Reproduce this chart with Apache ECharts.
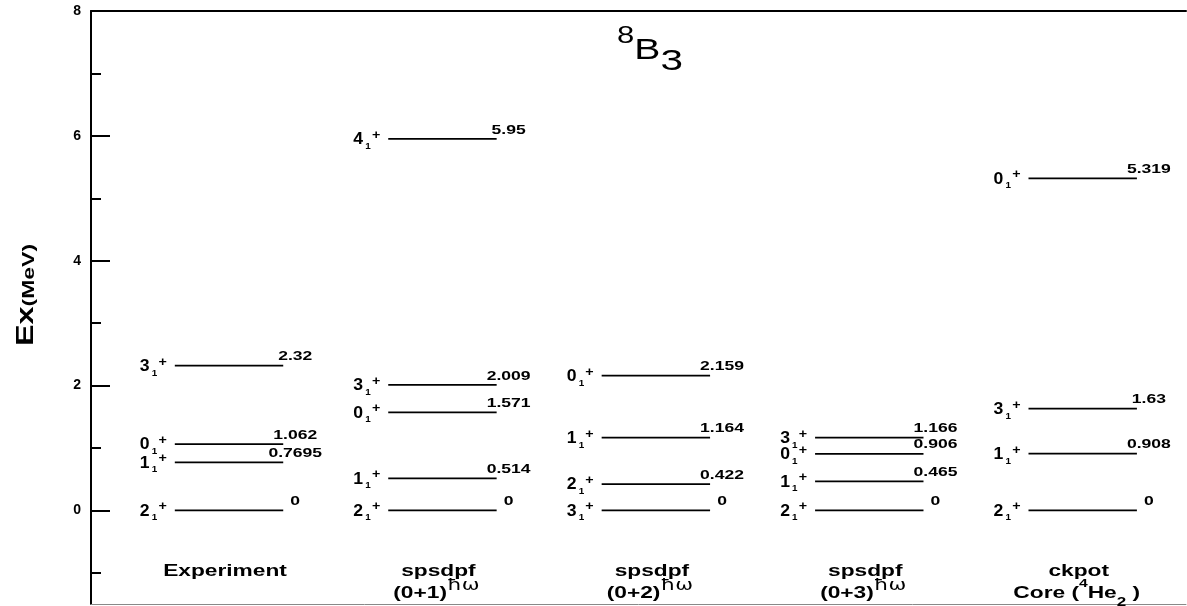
<!DOCTYPE html>
<html>
<head>
<meta charset="utf-8">
<script src="https://cdn.jsdelivr.net/npm/echarts@6/dist/echarts.min.js"></script>
<style>
html,body{margin:0;padding:0;background:#fff}
#main{width:1187px;height:606px}
</style>
</head>
<body>
<div id="main"></div>
<script>
// level scheme of 8B, one array per column
var colNames = ['Experiment', 'spsdpf', 'spsdpf', 'spsdpf', 'ckpot'];
var colSub = ['', '{b|(0+1)}{h|ħω}', '{b|(0+2)}{h|ħω}', '{b|(0+3)}{h|ħω}', '{b|Core (}{s|4}{b|He}{u|2}{b| )}'];

var expE = [0, 0.7695, 1.062, 2.32];
var expJ = ['2', '1', '0', '3'];
var sp1E = [0, 0.514, 1.571, 2.009, 5.95];
var sp1J = ['2', '1', '0', '3', '4'];
var sp2E = [0, 0.422, 1.164, 2.159];
var sp2J = ['3', '2', '1', '0'];
var sp3E = [0, 0.465, 0.906, 1.166];
var sp3J = ['2', '1', '0', '3'];
var ckE = [0, 0.908, 1.63, 5.319];
var ckJ = ['2', '1', '3', '0'];

var majorTicks = [0, 2, 4, 6, 8];
var minorTicks = [-1, 1, 3, 5, 7];

var allE = [expE, sp1E, sp2E, sp3E, ckE];
var allJ = [expJ, sp1J, sp2J, sp3J, ckJ];

var FONT = 'Liberation Sans';
var HALF = 0.254;   // half width of a level line (in column units)
var NAME_Y = -1;

var levelData = [], levelJ = [], levelTxt = [];
for (var c = 0; c < allE.length; c++) {
    for (var k = 0; k < allE[c].length; k++) {
        levelData.push([c + 1, allE[c][k]]);
        levelJ.push(allJ[c][k]);
        levelTxt.push(String(allE[c][k]));
    }
}
var nameData = colNames.map(function (n, i) { return [i + 1, NAME_Y]; });

function renderLevel(params, api) {
    var col = api.value(0), e = api.value(1);
    var a = api.coord([col - HALF, e]);
    var b = api.coord([col + HALF, e]);
    var i = params.dataIndex;
    return {
        type: 'group',
        children: [
            {type: 'line', shape: {x1: a[0], y1: a[1], x2: b[0], y2: b[1]},
             style: {stroke: '#000', lineWidth: 1.7}},
            {type: 'text', x: a[0] - 8, y: a[1] + 1, scaleX: 1.1,
             style: {
                 text: '{d|' + levelJ[i] + '}{s|1}{p|+}',
                 align: 'right', verticalAlign: 'middle',
                 rich: {
                     d: {fontSize: 16, fontWeight: 'bold', fontFamily: FONT, fill: '#000', lineHeight: 22, verticalAlign: 'middle'},
                     s: {fontSize: 9, fontWeight: 'bold', fontFamily: FONT, fill: '#000', lineHeight: 9, verticalAlign: 'bottom', padding: [0, 0, 0, 2]},
                     p: {fontSize: 13, fontWeight: 'bold', fontFamily: FONT, fill: '#000', lineHeight: 13, verticalAlign: 'top', padding: [0, 0, 0, 1]}
                 }
             }},
            {type: 'text', x: b[0] + 12, y: b[1] - 9, scaleX: 1.35,
             style: {text: levelTxt[i], fontSize: 13, fontWeight: 'bold', fontFamily: FONT,
                     fill: '#000', align: 'center', verticalAlign: 'middle'}}
        ]
    };
}

function renderName(params, api) {
    var p = api.coord([api.value(0), api.value(1)]);
    var i = params.dataIndex;
    var kids = [
        {type: 'text', x: p[0] - 4, y: p[1] - 1, scaleX: 1.42,
         style: {text: colNames[i], fontSize: 16, fontWeight: 'bold', fontFamily: FONT,
                 fill: '#000', align: 'center', verticalAlign: 'middle'}}
    ];
    if (colSub[i]) {
        kids.push({type: 'text', x: p[0] - 6, y: p[1] + 21, scaleX: 1.42,
            style: {
                text: colSub[i], align: 'center', verticalAlign: 'middle',
                rich: {
                    b: {fontSize: 16, fontWeight: 'bold', fontFamily: FONT, fill: '#000', lineHeight: 30, verticalAlign: 'middle'},
                    h: {fontSize: 15, fontFamily: 'DejaVu Sans', fill: '#000', lineHeight: 15, verticalAlign: 'top'},
                    s: {fontSize: 11, fontWeight: 'bold', fontFamily: FONT, fill: '#000', lineHeight: 14, verticalAlign: 'top'},
                    u: {fontSize: 12, fontWeight: 'bold', fontFamily: FONT, fill: '#000', lineHeight: 14, verticalAlign: 'bottom'}
                }
            }});
    }
    return {type: 'group', children: kids};
}

var myChart = echarts.init(document.getElementById('main'), null, {renderer: 'canvas'});
var option = {
    backgroundColor: '#fff',
    animation: false,
    grid: {left: 91, right: 1, top: 11, bottom: 2},
    xAxis: [
        {type: 'value', min: 0.3533, max: 5.484, position: 'top',
         axisLine: {show: true, onZero: false, lineStyle: {color: '#000', width: 2}},
         axisTick: {show: false}, axisLabel: {show: false}, splitLine: {show: false}},
        {type: 'value', min: 0.3533, max: 5.484, position: 'bottom',
         axisLine: {show: true, onZero: false, lineStyle: {color: '#888', width: 1}},
         axisTick: {show: false}, axisLabel: {show: false}, splitLine: {show: false}}
    ],
    yAxis: [
        {type: 'value', min: -1.5, max: 8, position: 'left',
         axisLine: {show: true, onZero: false, lineStyle: {color: '#000', width: 2}},
         axisTick: {show: true, inside: true, length: 19, customValues: majorTicks,
                    lineStyle: {color: '#000', width: 2}},
         axisLabel: {show: true, customValues: majorTicks, margin: 10, color: '#000',
                     fontSize: 14, fontWeight: 'bold', fontFamily: FONT},
         splitLine: {show: false}},
        {type: 'value', min: -1.5, max: 8, position: 'left',
         axisLine: {show: false, onZero: false},
         axisTick: {show: true, inside: true, length: 10, customValues: minorTicks,
                    lineStyle: {color: '#000', width: 2}},
         axisLabel: {show: false}, splitLine: {show: false}}
    ],
    graphic: [
        {type: 'text', x: 650, y: 51, scaleX: 1.35,
         style: {
             text: '{s|8}{m|B}{u|3}', align: 'center', verticalAlign: 'middle',
             rich: {
                 s: {fontSize: 23, fontFamily: FONT, fill: '#000', lineHeight: 23, verticalAlign: 'top'},
                 m: {fontSize: 29, fontFamily: FONT, fill: '#000', lineHeight: 52, verticalAlign: 'middle'},
                 u: {fontSize: 30, fontFamily: FONT, fill: '#000', lineHeight: 30, verticalAlign: 'bottom'}
             }
         }},
        {type: 'text', x: 26, y: 295, rotation: Math.PI / 2, scaleX: 1.35,
         style: {
             text: '{e|Ex}{m|(MeV)}', align: 'center', verticalAlign: 'middle',
             rich: {
                 e: {fontSize: 24, fontWeight: 'bold', fontFamily: FONT, fill: '#000', lineHeight: 24, verticalAlign: 'top'},
                 m: {fontSize: 17, fontWeight: 'bold', fontFamily: FONT, fill: '#000', lineHeight: 17, verticalAlign: 'bottom'}
             }
         }}
    ],
    series: [
        {type: 'custom', name: 'levels', xAxisIndex: 0, yAxisIndex: 0, clip: false,
         renderItem: renderLevel, data: levelData},
        {type: 'custom', name: 'names', xAxisIndex: 0, yAxisIndex: 0, clip: false,
         renderItem: renderName, data: nameData}
    ]
};
myChart.setOption(option);
</script>
</body>
</html>
